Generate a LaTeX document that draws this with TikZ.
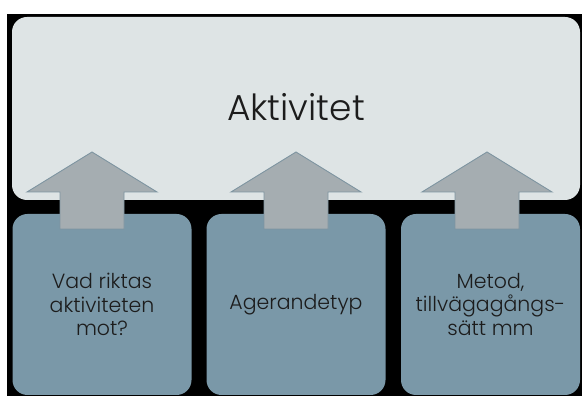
\documentclass[tikz,border=0pt]{standalone}
\usepackage{fontspec}
\setmainfont{Poppins}[UprightFont=* Light]
\begin{document}
\begin{tikzpicture}[x=1pt,y=1pt,
    top_style/.style={rectangle,rounded corners=15pt,fill=topfill,draw=none,
        minimum width=568pt,minimum height=183pt,inner sep=0pt},
    box_style/.style={rectangle,rounded corners=15pt,fill=boxfill,draw=none,
        minimum width=179pt,minimum height=181pt,inner sep=0pt,align=center,
        text=textcol,font=\fontsize{20.5}{23.5}\selectfont},
    arrow_style/.style={fill=arrowfill,draw=arrowline,line width=0.9pt,line join=miter}]
  \definecolor{topfill}{HTML}{DEE4E5}
  \definecolor{boxfill}{HTML}{7A98A8}
  \definecolor{arrowfill}{HTML}{A5ADB1}
  \definecolor{arrowline}{HTML}{7F95A1}
  \definecolor{textcol}{HTML}{1C1C1C}
  \useasboundingbox (0,0) rectangle (582,396);
  \fill[white] (0,0) rectangle (582,396);
  \fill[black] (7,0) rectangle (582,382);
  % top box
  \node[top_style] (top) at (296,287.5) {};
  \node[text=textcol,font=\fontsize{36}{40}\selectfont] (title) at (296,289) {Aktivitet};
  % bottom boxes
  \node[box_style] (b1) at (102,91.5) {Vad riktas\\aktiviteten\\mot?};
  \node[box_style] (b2) at (296,91.5) {Agerandetyp};
  \node[box_style] (b3) at (490.5,91.5) {Metod,\\tillvägagångs-\\sätt mm};
  % arrows
  \foreach \n/\x in {1/92,2/296,3/487} {
    \coordinate (a\n) at (\x,167);
    \draw[arrow_style] (a\n) ++(-32,0) -- ++(0,37) -- ++(-33,0) -- ++(65,40)
        -- ++(65,-40) -- ++(-33,0) -- ++(0,-37) -- cycle;
  }
\end{tikzpicture}
\end{document}
